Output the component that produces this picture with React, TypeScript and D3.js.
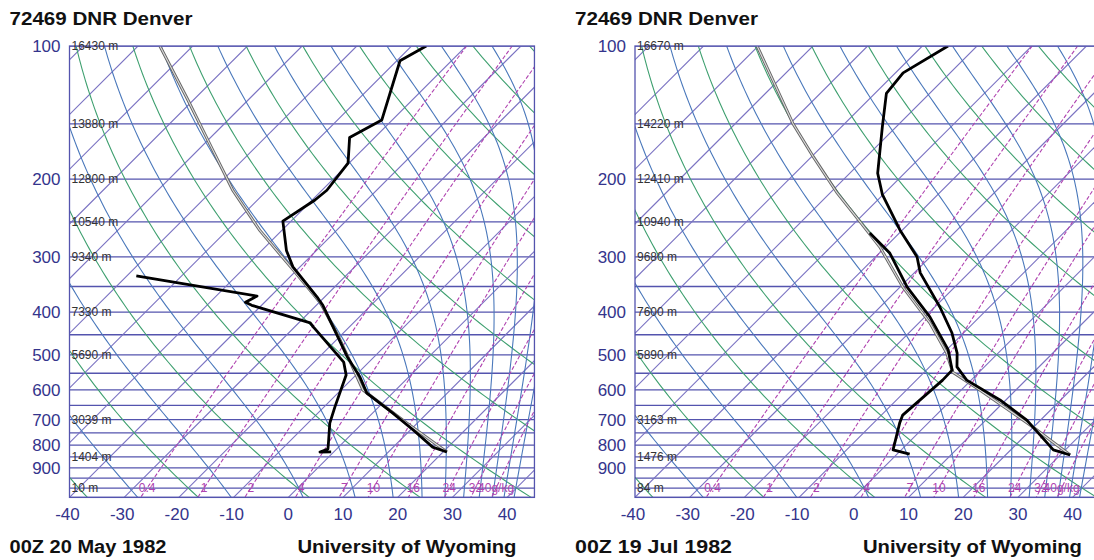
import React from 'react';
import * as d3 from 'd3';

// pressure (hPa) grid and labels
const ISOBARS = [100, 150, 200, 250, 300, 350, 400, 450, 500, 550, 600, 650, 700, 750, 800, 850, 900, 950, 1000, 1050];
const PRESSURE_LABELS = [100, 200, 300, 400, 500, 600, 700, 800, 900];
const TEMP_TICKS = [-40, -30, -20, -10, 0, 10, 20, 30, 40];
const ISOTHERMS = d3.range(-150, 50, 10);
const DRY_THETAS = d3.range(-40, 181, 20); // potential temperature, degC
const MOIST_THETAES = d3.range(-30, 191, 20); // equivalent potential temperature, degC
const MIXING_RATIOS = [0.4, 1, 2, 4, 7, 10, 16, 24, 32, 40];
const MIXING_LABELS = ['0.4', '1', '2', '4', '7', '10', '16', '24', '32', '40g/kg'];
const HEIGHT_LEVELS = [100, 150, 200, 250, 300, 400, 500, 700, 850, 1000];

// 00Z 20 May 1982
const MAY_HEIGHTS = ['16430 m', '13880 m', '12800 m', '10540 m', '9340 m', '7330 m', '5690 m', '3039 m', '1404 m', '10 m'];
const MAY_TEMP_P = [100, 108, 147, 161, 184, 212, 223, 249, 290, 316, 372, 386, 505, 561, 610, 677, 739, 808, 829];
const MAY_TEMP = [-57.3, -59.4, -51.9, -54.6, -50.2, -49.1, -49.5, -51.5, -45.5, -41.3, -31.0, -28.8, -14.9, -8.9, -4.7, 3.7, 10.5, 17.2, 20.7];
const MAY_DEW_P = [331, 368, 380, 386, 423, 432, 519, 555, 656, 713, 779, 816, 829, 828];
const MAY_DEW = [-68.3, -42.5, -43.5, -41.8, -27.9, -26.6, -14.6, -11.8, -8.0, -6.0, -3.1, -1.6, -2.5, -0.5];
const MAY_PARCEL_P = [100, 132, 172, 212, 261, 321, 381, 451, 527, 600, 713, 829];
const MAY_PARCEL = [-106.0, -91.2, -77.3, -66.3, -54.1, -40.7, -29.7, -20.6, -12.6, -6.0, 8.1, 20.7];

// 00Z 19 Jul 1982
const JUL_HEIGHTS = ['16670 m', '14220 m', '12410 m', '10940 m', '9680 m', '7600 m', '5890 m', '3163 m', '1476 m', '84 m'];
const JUL_TEMP_P = [100, 115, 128, 152, 194, 217, 261, 300, 326, 390, 446, 495, 532, 570, 632, 702, 820, 842];
const JUL_TEMP = [-65.3, -68.6, -67.9, -62.6, -54.9, -50.1, -40.4, -32.4, -28.9, -19.0, -12.1, -7.5, -5.0, -0.8, 8.9, 17.5, 27.8, 31.8];
const JUL_DEW_P = [265, 294, 351, 410, 487, 541, 570, 684, 713, 820, 838];
const JUL_DEW = [-45.4, -38.1, -28.7, -19.1, -9.7, -5.3, -5.2, -6.1, -5.2, -1.5, 2.3];
const JUL_PARCEL_P = [100, 150, 178, 215, 250, 285, 351, 423, 495, 547, 600, 720, 842];
const JUL_PARCEL = [-100.2, -79.4, -69.7, -58.7, -49.2, -41.0, -29.5, -18.0, -9.4, -4.8, 3.4, 19.0, 31.8];

const PX_PER_DEG = 5.47;
const FONT = '"Liberation Sans", Arial, sans-serif';
const NAVY = '#34348c';
const MAGENTA = '#b044b0';

const y = d3.scaleLog().domain([100, 1050]).range([46, 497.4]);
const LEVELS = d3.range(0, 81).map(i => 100 * Math.pow(10.5, i / 80));

const satVap = (tc: number) => 6.112 * Math.exp((17.67 * tc) / (tc + 243.5));

const thetaE = (tk: number, p: number) => {
  const es = satVap(tk - 273.15);
  if (es >= p * 0.9) return Infinity;
  const ws = (0.622 * es) / (p - es);
  return tk * Math.pow(1000 / p, 0.2857) * Math.exp((2.5e6 * ws) / (1005 * tk));
};

// temperature on a pseudo-adiabat of given theta-e at pressure p (bisection)
const moistT = (te: number, p: number) => {
  let lo = 120, hi = 340;
  for (let i = 0; i < 50; i++) {
    const mid = (lo + hi) / 2;
    if (thetaE(mid, p) > te) hi = mid; else lo = mid;
  }
  return (lo + hi) / 2 - 273.15;
};

const mixDew = (w: number, p: number) => {
  const e = ((w / 1000) * p) / (0.622 + w / 1000);
  const l = Math.log(e / 6.112);
  return (243.5 * l) / (17.67 - l);
};

const DRY_CURVES = DRY_THETAS.map(th => LEVELS.map(p => [p, (th + 273.15) * Math.pow(p / 1000, 0.2857) - 273.15]));
const MOIST_CURVES = MOIST_THETAES.map(te => LEVELS.map(p => [p, moistT(te + 273.15, p)]));
const MIX_CURVES = MIXING_RATIOS.map(w => LEVELS.map(p => [p, mixDew(w, p)]));

interface PanelProps {
  id: string;
  x0: number;
  date: string;
  heights: string[];
  tempP: number[];
  temp: number[];
  dewP: number[];
  dew: number[];
  parcelP: number[];
  parcel: number[];
}

const Panel = ({ id, x0, date, heights, tempP, temp, dewP, dew, parcelP, parcel }: PanelProps) => {
  const x = d3.scaleLinear().domain([-40, 45]).range([x0, x0 + 85 * PX_PER_DEG]);
  const yb = y(1050);
  const sx = (t: number, p: number) => x(t) + (yb - y(p));
  const line = d3.line<number[]>().x(d => sx(d[1], d[0])).y(d => y(d[0]));
  const zip = (ps: number[], ts: number[]) => ps.map((p, i) => [p, ts[i]]);
  const [left, right] = x.range();
  const top = y(100);

  return (
    <g fontFamily={FONT}>
      <text x={x0 - 60} y={25} fontSize={19} fontWeight="bold" fill="#111"
        textLength={183} lengthAdjust="spacingAndGlyphs">72469 DNR Denver</text>
      <defs>
        <clipPath id={id}>
          <rect x={left} y={top} width={right - left} height={yb - top} />
        </clipPath>
      </defs>
      <g clipPath={`url(#${id})`} fill="none">
        {ISOBARS.map(p => (
          <line key={p} x1={left} x2={right} y1={y(p)} y2={y(p)} stroke="#5454ae" strokeWidth={1.3} />
        ))}
        {ISOTHERMS.map(t => (
          <line key={t} x1={sx(t, 1050)} y1={yb} x2={sx(t, 100)} y2={top} stroke="#7a72c2" strokeWidth={1.1} />
        ))}
        {DRY_CURVES.map((c, i) => (
          <path key={i} d={line(c) || ''} stroke="#3fa070" strokeWidth={1.1} />
        ))}
        {MOIST_CURVES.map((c, i) => (
          <path key={i} d={line(c) || ''} stroke="#4a78bb" strokeWidth={1.1} />
        ))}
        {MIX_CURVES.map((c, i) => (
          <path key={i} d={line(c) || ''} stroke={MAGENTA} strokeWidth={1.1} strokeDasharray="4,2" />
        ))}
        {MIXING_LABELS.map((m, i) => (
          <text key={m} x={sx(mixDew(MIXING_RATIOS[i], 1000), 1000)} y={y(1000) + 4} fontSize={12}
            fill={MAGENTA} stroke="none" textAnchor="middle">{m}</text>
        ))}
        <path d={line(zip(parcelP, parcel)) || ''} stroke="#666" strokeWidth={3} />
        <path d={line(zip(parcelP, parcel)) || ''} stroke="#ddd" strokeWidth={1.1} />
        <path d={line(zip(tempP, temp)) || ''} stroke="#000" strokeWidth={2.8} strokeLinejoin="round" />
        <path d={line(zip(dewP, dew)) || ''} stroke="#000" strokeWidth={2.8} strokeLinejoin="round" />
      </g>
      <rect x={left} y={top} width={right - left} height={yb - top} fill="none" stroke="#5454ae" strokeWidth={1.3} />
      {heights.map((h, i) => (
        <text key={h} x={left + 2} y={y(HEIGHT_LEVELS[i]) + 4} fontSize={12} fill="#333">{h}</text>
      ))}
      {PRESSURE_LABELS.map(p => (
        <text key={p} x={left - 9} y={y(p) + 6} fontSize={17} fill={NAVY} textAnchor="end">{p}</text>
      ))}
      {TEMP_TICKS.map(t => (
        <text key={t} x={x(t) - (t < 0 ? 2 : 0)} y={520} fontSize={17} fill={NAVY} textAnchor="middle">{t}</text>
      ))}
      <text x={x0 - 60} y={553} fontSize={18} fontWeight="bold" fill="#111"
        textLength={157} lengthAdjust="spacingAndGlyphs">{date}</text>
      <text x={x0 + 228} y={553} fontSize={18} fontWeight="bold" fill="#111"
        textLength={219} lengthAdjust="spacingAndGlyphs">University of Wyoming</text>
    </g>
  );
};

export default function App() {
  return (
    <svg width={1094} height={560} style={{ position: 'absolute', left: 0, top: 0, background: '#fff' }}>
      <rect width={1094} height={560} fill="#fff" />
      <Panel id="clipMay" x0={69.5} date="00Z 20 May 1982" heights={MAY_HEIGHTS}
        tempP={MAY_TEMP_P} temp={MAY_TEMP} dewP={MAY_DEW_P} dew={MAY_DEW}
        parcelP={MAY_PARCEL_P} parcel={MAY_PARCEL} />
      <Panel id="clipJul" x0={635} date="00Z 19 Jul 1982" heights={JUL_HEIGHTS}
        tempP={JUL_TEMP_P} temp={JUL_TEMP} dewP={JUL_DEW_P} dew={JUL_DEW}
        parcelP={JUL_PARCEL_P} parcel={JUL_PARCEL} />
    </svg>
  );
}
